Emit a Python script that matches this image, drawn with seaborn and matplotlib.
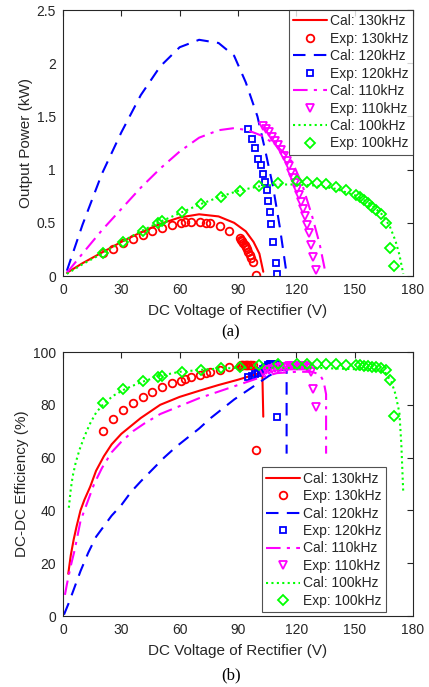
import numpy as np
import pandas as pd
import matplotlib
matplotlib.use("Agg")
import matplotlib.pyplot as plt
import seaborn as sns

# ---------------- data: (a) output power ----------------
cal130_v = [2, 10, 20, 30, 40, 50, 60, 70, 80, 88, 94, 98, 101, 103]
cal130_p = [0.03, 0.12, 0.22, 0.32, 0.41, 0.49, 0.55, 0.58, 0.56, 0.50, 0.42, 0.32, 0.21, 0.04]

cal120_v = [2, 10, 20, 30, 40, 50, 60, 70, 80, 88, 94, 100, 104, 108, 111.5, 115]
cal120_p = [0.05, 0.48, 0.96, 1.35, 1.70, 1.97, 2.15, 2.22, 2.19, 2.07, 1.82, 1.50, 1.18, 0.84, 0.46, 0.02]

cal110_v = [2, 10, 20, 30, 40, 50, 60, 70, 80, 88, 95, 102, 108, 113, 118, 123, 128, 132, 135]
cal110_p = [0.03, 0.21, 0.43, 0.63, 0.83, 1.01, 1.17, 1.30, 1.37, 1.39, 1.37, 1.32, 1.25, 1.17, 1.07, 0.86, 0.57, 0.30, 0.03]

cal100_v = [2, 10, 20, 30, 40, 50, 60, 70, 80, 90, 100, 110, 120, 130, 140, 150, 158, 164, 168, 171, 173, 175]
cal100_p = [0.02, 0.11, 0.21, 0.32, 0.42, 0.51, 0.59, 0.67, 0.74, 0.80, 0.84, 0.86, 0.86, 0.85, 0.82, 0.76, 0.68, 0.58, 0.47, 0.33, 0.20, 0.02]

exp130_v = [20.8, 25.8, 31, 36.1, 41, 46, 50.9, 55.8, 60.8, 62.6, 65.8, 70.5, 73.6, 75.6, 80.8, 85.4,
            90.8, 91.5, 92.2, 92.8, 93.4, 94.0, 94.6, 95.3, 96.0, 96.8, 97.6, 99.1]
exp130_p = [0.215, 0.255, 0.307, 0.35, 0.388, 0.424, 0.45, 0.477, 0.498, 0.503, 0.504, 0.505, 0.502, 0.497, 0.471, 0.427,
            0.36, 0.34, 0.325, 0.31, 0.29, 0.27, 0.25, 0.23, 0.20, 0.17, 0.13, 0.01]

exp120_v = [95.2, 97, 98.8, 100.3, 101.8, 102.9, 103.8, 104.7, 105.6, 106.4, 107.2, 108.1, 109.3, 110.2]
exp120_p = [1.385, 1.29, 1.20, 1.10, 1.04, 0.96, 0.885, 0.805, 0.705, 0.60, 0.49, 0.32, 0.12, 0.02]

exp110_v = [103, 104.5, 106, 107.5, 109, 110.5, 112, 113.5, 115, 116.3, 117.5, 118.5, 119.5, 120.5,
            121.5, 122.5, 123.5, 124.5, 125.5, 126.3, 127.3, 128.5, 130.3]
exp110_p = [1.41, 1.38, 1.35, 1.31, 1.27, 1.23, 1.18, 1.13, 1.08, 1.03, 0.97, 0.92, 0.87, 0.82,
            0.76, 0.70, 0.63, 0.56, 0.48, 0.40, 0.29, 0.18, 0.06]

exp100_v = [20.8, 31, 41, 49, 50.8, 61, 70.8, 81, 91, 101, 110.5, 120.3, 125.5, 130.6, 135.4, 140.6,
            145.4, 150.5, 152.6, 154.6, 156.9, 159, 161.1, 163.7, 166.3, 168.2, 170]
exp100_p = [0.22, 0.32, 0.42, 0.50, 0.52, 0.60, 0.677, 0.745, 0.80, 0.85, 0.877, 0.895, 0.886, 0.877, 0.865, 0.84,
            0.81, 0.765, 0.74, 0.714, 0.684, 0.65, 0.62, 0.58, 0.495, 0.266, 0.097]

# ---------------- data: (b) efficiency ----------------
cal130e_v = [2.7, 4, 5.5, 7, 9, 11, 14, 17, 21, 25, 30, 35, 40, 50, 60, 70, 80, 90, 98, 102.5, 103]
cal130e_e = [16, 23, 29, 34, 40, 44, 49, 55, 60.5, 65, 69, 72, 75, 80, 83, 85.3, 87.5, 89.5, 91.3, 92.5, 75.5]

cal120e_v = [0.5, 3, 6, 9, 13, 17, 20, 25, 30, 35, 40, 46, 52, 58, 64, 70, 76, 82, 88, 94, 100, 106, 111, 115, 115]
cal120e_e = [0.5, 5, 11, 17, 24, 30, 33, 38, 42, 47, 51, 55.5, 60, 64, 67.5, 71, 75, 78.5, 82, 85, 88, 91, 93, 93.5, 61.5]

cal110e_v = [1, 2, 4, 6, 9, 12, 16, 20, 25, 30, 36, 42, 50, 60, 70, 80, 90, 100, 110, 120, 128, 132, 134, 135.3, 135.3]
cal110e_e = [8, 12, 19, 25, 36, 42, 50, 56, 62, 66, 70, 73, 76.5, 79.5, 82.5, 85, 87.5, 90, 92, 92.5, 92.5, 91.5, 89, 84, 61.5]

cal100e_v = [3, 4, 5, 6.5, 8.5, 11, 14, 17, 21, 26, 32, 40, 50, 60, 75, 90, 110, 130, 150, 162, 166, 169, 171, 173, 174, 175]
cal100e_e = [41, 48, 53, 58, 63, 68, 73, 77, 80.5, 83.5, 86, 88.5, 91, 92.5, 93.5, 94, 94, 94, 93.5, 93, 92, 88.5, 84, 77, 65, 46.5]

exp130_e = [70, 74.5, 78, 80.8, 83, 85, 86.6, 88.1, 89.1, 89.6, 90.6, 91.4, 92, 92.4, 93.3, 94.2,
            94.8, 95, 95, 95.1, 95.1, 95.2, 95.2, 95.2, 95.2, 95.2, 95.1, 62.9]
exp120_e = [90.5, 91, 91.5, 92, 92.8, 93.5, 94, 94.5, 95, 95.3, 95.5, 95.5, 95.5, 75.5]
exp110_e = [92.5, 93, 93.3, 93.6, 93.8, 94, 94.2, 94.3, 94.5, 94.6, 94.7, 94.7, 94.8, 94.8,
            94.8, 94.8, 94.7, 94.6, 94.4, 94.0, 92.5, 85.8, 79]
exp100_e = [80.8, 86, 89, 90.6, 91, 92.3, 93.3, 94, 94.4, 95, 95.3, 95.6, 95.5, 95.4, 95.4, 95.3,
            95.2, 95, 94.9, 94.8, 94.6, 94.4, 94.2, 93.8, 93, 89.3, 75.7]

freqs = ["130kHz", "120kHz", "110kHz", "100kHz"]
colors = ["#ff0000", "#0000ff", "#ff00ff", "#00ff00"]
line_styles = ["-", (0, (6, 4)), (0, (7, 3, 1.5, 3)), (0, (1, 1.6))]
markers = ["o", "s", "v", "D"]
marker_sizes = [5.5, 5, 6, 5]

sns.set_theme(style="white")
plt.rcParams["font.family"] = ["Liberation Sans", "DejaVu Sans"]
plt.rcParams["axes.edgecolor"] = "#262626"
plt.rcParams["axes.linewidth"] = 0.8

fig = plt.figure(figsize=(4.29, 6.87), dpi=100)
ax1 = fig.add_axes([63/429, 1-276/687, 350/429, 266/687])
ax2 = fig.add_axes([63/429, 1-616/687, 350/429, 264/687])

top_cal = [(cal130_v, cal130_p), (cal120_v, cal120_p), (cal110_v, cal110_p), (cal100_v, cal100_p)]
top_exp = [(exp130_v, exp130_p), (exp120_v, exp120_p), (exp110_v, exp110_p), (exp100_v, exp100_p)]
bot_cal = [(cal130e_v, cal130e_e), (cal120e_v, cal120e_e), (cal110e_v, cal110e_e), (cal100e_v, cal100e_e)]
bot_exp = [(exp130_v, exp130_e), (exp120_v, exp120_e), (exp110_v, exp110_e), (exp100_v, exp100_e)]


def draw(ax, cals, exps):
    for i in range(4):
        cv, cy = cals[i]
        sns.lineplot(x=cv, y=cy, ax=ax, color=colors[i], linestyle=line_styles[i],
                     linewidth=1.5, sort=False, estimator=None, label=f"Cal: {freqs[i]}")
        ev, ey = exps[i]
        sns.lineplot(x=ev, y=ey, ax=ax, color=colors[i], linestyle="none", marker=markers[i],
                     markersize=marker_sizes[i], markerfacecolor="none", markeredgecolor=colors[i],
                     markeredgewidth=1.3, sort=False, estimator=None, label=f"Exp: {freqs[i]}")
    ax.set_xlim(0, 180)
    ax.set_xticks([0, 30, 60, 90, 120, 150, 180])
    ax.tick_params(direction="in", top=True, right=True, length=4, width=0.8,
                   labelsize=10, colors="#262626", pad=5)
    ax.set_xlabel("DC Voltage of Rectifier (V)", fontsize=11, color="#262626", labelpad=5)
    for s in ax.spines.values():
        s.set_color("#262626")
        s.set_linewidth(0.8)


legend_kw = dict(fontsize=10, frameon=True, fancybox=False, edgecolor="#262626",
                 handlelength=2.4, handletextpad=0.25, labelspacing=0.25, borderpad=0.3,
                 borderaxespad=0)

draw(ax1, top_cal, top_exp)
ax1.set_ylim(0, 2.5)
ax1.set_yticks([0, 0.5, 1, 1.5, 2, 2.5])
ax1.set_yticklabels(["0", "0.5", "1", "1.5", "2", "2.5"])
ax1.set_ylabel("Output Power (kW)", fontsize=11, color="#262626", labelpad=3)
h, l = ax1.get_legend_handles_labels()
leg1 = ax1.legend(h, l, loc="upper right", **legend_kw)
leg1.get_frame().set_linewidth(0.8)

draw(ax2, bot_cal, bot_exp)
ax2.set_ylim(0, 100)
ax2.set_yticks([0, 20, 40, 60, 80, 100])
ax2.set_ylabel("DC-DC Efficiency (%)", fontsize=11, color="#262626", labelpad=3)
h, l = ax2.get_legend_handles_labels()
leg2 = ax2.legend(h, l, loc="lower right", bbox_to_anchor=(0.923, 0.015), **legend_kw)
leg2.get_frame().set_linewidth(0.8)

fig.text(231/429, 1-332/687, "(a)", ha="center", va="center", fontsize=12,
         family=["Liberation Serif", "DejaVu Serif"], color="black")
fig.text(231/429, 1-675/687, "(b)", ha="center", va="center", fontsize=12,
         family=["Liberation Serif", "DejaVu Serif"], color="black")

fig.savefig("out.png", dpi=100)
